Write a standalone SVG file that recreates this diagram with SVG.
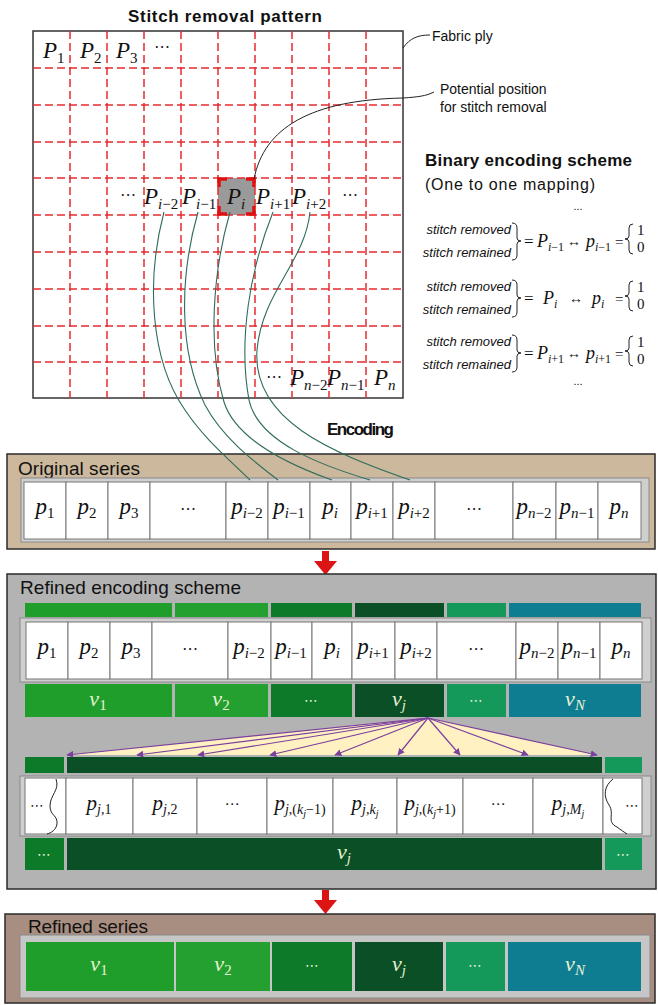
<svg xmlns="http://www.w3.org/2000/svg" width="658" height="1005" viewBox="0 0 658 1005">
<style>
.t{font-family:"Liberation Sans",Arial,sans-serif;fill:#111}
.b{font-weight:bold}
.m{font-family:"Liberation Serif","DejaVu Serif",serif;font-style:italic;fill:#111}
.n{font-style:normal}
.dots{font-family:"DejaVu Sans",sans-serif;fill:#222}
.grid{stroke:#e52a2f;stroke-width:1.5;stroke-dasharray:8 4;fill:none}
.cell{fill:#fff;stroke:#777;stroke-width:1}
.frame{fill:#cfcfcf;stroke:#8a8a8a;stroke-width:1}
.lead{fill:none;stroke:#222;stroke-width:1}
.conn{fill:none;stroke:#2e6b5c;stroke-width:1.1}
.fan{stroke:#7b3f9e;stroke-width:1.2;fill:none}
.c1{fill:#1f9e2c}.c2{fill:#23a030}.c3{fill:#0d7a2a}.c4{fill:#0b4f26}.c5{fill:#14995a}.c6{fill:#0e7d92}
.vl{font-family:"Liberation Serif","DejaVu Serif",serif;font-style:italic;fill:#e6f3d2}
.vd{font-family:"DejaVu Sans",sans-serif;fill:#e6f3d2}
.br{fill:none;stroke:#222;stroke-width:1}
.red{fill:#dd1414}
.pt{font-family:"Liberation Sans",Arial,sans-serif;fill:#111;font-size:19px}
</style>
<defs>
<marker id="ah" viewBox="0 0 10 10" refX="9" refY="5" markerWidth="7" markerHeight="7" orient="auto-start-reverse" markerUnits="userSpaceOnUse">
<path d="M0,0 L10,5 L0,10 z" fill="#7b3f9e"/>
</marker>
</defs>

<!-- Stitch removal pattern -->
<g id="pattern">
<text class="t b" x="225" y="22" font-size="17" text-anchor="middle" textLength="194">Stitch removal pattern</text>
<rect x="33" y="31" width="370" height="367" fill="#fff" stroke="#333" stroke-width="1.5"/>
<rect x="218" y="178" width="37" height="37" fill="#9a9a9a"/>
<path class="grid" d="M70,31V398M107,31V398M144,31V398M181,31V398M218,31V398M255,31V398M292,31V398M329,31V398M366,31V398"/>
<path class="grid" d="M33,68H403M33,105H403M33,142H403M33,178H403M33,215H403M33,252H403M33,289H403M33,326H403M33,362H403"/>
<path d="M219,187V179H227M246,179H254V187M254,206V214H246M227,214H219V206" fill="none" stroke="#e01010" stroke-width="3.5"/>
<text class="m" x="43" y="58" font-size="23">P<tspan class="n" dy="5" font-size="15">1</tspan></text>
<text class="m" x="80" y="58" font-size="23">P<tspan class="n" dy="5" font-size="15">2</tspan></text>
<text class="m" x="116" y="58" font-size="23">P<tspan class="n" dy="5" font-size="15">3</tspan></text>
<text class="dots" x="162" y="52" font-size="16" text-anchor="middle">⋯</text>
<text class="dots" x="128" y="200" font-size="16" text-anchor="middle">⋯</text>
<text class="m" x="144" y="204" font-size="23">P<tspan dy="5" font-size="15">i<tspan class="n">−2</tspan></tspan></text>
<text class="m" x="182" y="204" font-size="23">P<tspan dy="5" font-size="15">i<tspan class="n">−1</tspan></tspan></text>
<text class="m" x="227" y="204" font-size="23">P<tspan dy="5" font-size="15">i</tspan></text>
<text class="m" x="256" y="204" font-size="23">P<tspan dy="5" font-size="15">i<tspan class="n">+1</tspan></tspan></text>
<text class="m" x="292" y="204" font-size="23">P<tspan dy="5" font-size="15">i<tspan class="n">+2</tspan></tspan></text>
<text class="dots" x="350" y="200" font-size="16" text-anchor="middle">⋯</text>
<text class="dots" x="274" y="382" font-size="16" text-anchor="middle">⋯</text>
<text class="m" x="290" y="385" font-size="23">P<tspan dy="5" font-size="15">n<tspan class="n">−2</tspan></tspan></text>
<text class="m" x="327" y="385" font-size="23">P<tspan dy="5" font-size="15">n<tspan class="n">−1</tspan></tspan></text>
<text class="m" x="374" y="385" font-size="23">P<tspan dy="5" font-size="15">n</tspan></text>
</g>

<g id="labels">
<path class="lead" d="M403,48 C410,38 418,35 430,35"/>
<text class="t" x="432" y="41" font-size="14">Fabric ply</text>
<path class="lead" d="M254,179 C264,128 310,100 403,98 C418,97 426,96 434,92"/>
<text class="t" x="440" y="94" font-size="14">Potential position</text>
<text class="t" x="440" y="112" font-size="14">for stitch removal</text>
</g>

<!-- Binary encoding scheme -->
<g id="binary-scheme">
<text class="t b" x="425" y="166" font-size="17" textLength="207">Binary encoding scheme</text>
<text class="t" x="425" y="190" font-size="16" textLength="170">(One to one mapping)</text>
<text class="t" x="578" y="210" font-size="11" text-anchor="middle">...</text>
<g id="row1">
<text class="t" x="511" y="234" font-size="13" font-style="italic" text-anchor="end">stitch removed</text>
<text class="t" x="511" y="257" font-size="13" font-style="italic" text-anchor="end">stitch remained</text>
<path class="br" d="M512,223 Q517,223 517,228 L517,238 Q517,241 521,241 Q517,241 517,244 L517,255 Q517,260 512,260"/>
<text class="m n" x="524" y="247" font-size="17">=</text>
<text class="m" x="537" y="247" font-size="18">P<tspan dy="4" font-size="12">i<tspan class="n">−1</tspan></tspan></text>
<text class="m n" x="567" y="246" font-size="14">↔</text>
<text class="m" x="586" y="247" font-size="18">p<tspan dy="4" font-size="12">i<tspan class="n">−1</tspan></tspan></text>
<text class="m n" x="615" y="247" font-size="15">=</text>
<path class="br" d="M633,224 Q629,224 629,228 L629,236 Q629,239 625,239 Q629,239 629,242 L629,250 Q629,254 633,254"/>
<text class="m n" x="637" y="235" font-size="15">1</text>
<text class="m n" x="637" y="252" font-size="15">0</text>
</g>
<g id="row2" transform="translate(0,57)">
<text class="t" x="511" y="234" font-size="13" font-style="italic" text-anchor="end">stitch removed</text>
<text class="t" x="511" y="257" font-size="13" font-style="italic" text-anchor="end">stitch remained</text>
<path class="br" d="M512,223 Q517,223 517,228 L517,238 Q517,241 521,241 Q517,241 517,244 L517,255 Q517,260 512,260"/>
<text class="m n" x="524" y="247" font-size="17">=</text>
<text class="m" x="543" y="247" font-size="18">P<tspan dy="4" font-size="12">i</tspan></text>
<text class="m n" x="569" y="246" font-size="14">↔</text>
<text class="m" x="592" y="247" font-size="18">p<tspan dy="4" font-size="12">i</tspan></text>
<text class="m n" x="615" y="247" font-size="15">=</text>
<path class="br" d="M633,224 Q629,224 629,228 L629,236 Q629,239 625,239 Q629,239 629,242 L629,250 Q629,254 633,254"/>
<text class="m n" x="637" y="235" font-size="15">1</text>
<text class="m n" x="637" y="252" font-size="15">0</text>
</g>
<g id="row3" transform="translate(0,112)">
<text class="t" x="511" y="234" font-size="13" font-style="italic" text-anchor="end">stitch removed</text>
<text class="t" x="511" y="257" font-size="13" font-style="italic" text-anchor="end">stitch remained</text>
<path class="br" d="M512,223 Q517,223 517,228 L517,238 Q517,241 521,241 Q517,241 517,244 L517,255 Q517,260 512,260"/>
<text class="m n" x="524" y="247" font-size="17">=</text>
<text class="m" x="537" y="247" font-size="18">P<tspan dy="4" font-size="12">i<tspan class="n">+1</tspan></tspan></text>
<text class="m n" x="567" y="246" font-size="14">↔</text>
<text class="m" x="586" y="247" font-size="18">p<tspan dy="4" font-size="12">i<tspan class="n">+1</tspan></tspan></text>
<text class="m n" x="615" y="247" font-size="15">=</text>
<path class="br" d="M633,224 Q629,224 629,228 L629,236 Q629,239 625,239 Q629,239 629,242 L629,250 Q629,254 633,254"/>
<text class="m n" x="637" y="235" font-size="15">1</text>
<text class="m n" x="637" y="252" font-size="15">0</text>
</g>
<text class="t" x="578" y="385" font-size="11" text-anchor="middle">...</text>
</g>

<text class="t b" x="327" y="435" font-size="17" textLength="67">Encoding</text>

<!-- Original series -->
<g id="original-series">
<rect x="7" y="454" width="648" height="95" fill="#ccb89c" stroke="#2a2a2a" stroke-width="1.5"/>
<text class="pt" x="18" y="475" textLength="122">Original series</text>
<rect class="frame" x="21" y="478" width="628" height="64"/>
<rect class="cell" x="24" y="482" width="42" height="57"/>
<rect class="cell" x="66" y="482" width="42" height="57"/>
<rect class="cell" x="108" y="482" width="42" height="57"/>
<rect class="cell" x="150" y="482" width="76" height="57"/>
<rect class="cell" x="226" y="482" width="42" height="57"/>
<rect class="cell" x="268" y="482" width="42" height="57"/>
<rect class="cell" x="310" y="482" width="41" height="57"/>
<rect class="cell" x="351" y="482" width="42" height="57"/>
<rect class="cell" x="393" y="482" width="42" height="57"/>
<rect class="cell" x="435" y="482" width="78" height="57"/>
<rect class="cell" x="513" y="482" width="43" height="57"/>
<rect class="cell" x="556" y="482" width="42" height="57"/>
<rect class="cell" x="598" y="482" width="43" height="57"/>
<g font-size="23" text-anchor="middle">
<text class="m" x="45" y="514">p<tspan class="n" dy="4" font-size="15">1</tspan></text>
<text class="m" x="87" y="514">p<tspan class="n" dy="4" font-size="15">2</tspan></text>
<text class="m" x="129" y="514">p<tspan class="n" dy="4" font-size="15">3</tspan></text>
<text class="dots" x="188" y="514" font-size="16">⋯</text>
<text class="m" x="247" y="514">p<tspan dy="4" font-size="15">i<tspan class="n">−2</tspan></tspan></text>
<text class="m" x="289" y="514">p<tspan dy="4" font-size="15">i<tspan class="n">−1</tspan></tspan></text>
<text class="m" x="330" y="514">p<tspan dy="4" font-size="15">i</tspan></text>
<text class="m" x="372" y="514">p<tspan dy="4" font-size="15">i<tspan class="n">+1</tspan></tspan></text>
<text class="m" x="414" y="514">p<tspan dy="4" font-size="15">i<tspan class="n">+2</tspan></tspan></text>
<text class="dots" x="474" y="514" font-size="16">⋯</text>
<text class="m" x="534" y="514">p<tspan dy="4" font-size="15">n<tspan class="n">−2</tspan></tspan></text>
<text class="m" x="577" y="514">p<tspan dy="4" font-size="15">n<tspan class="n">−1</tspan></tspan></text>
<text class="m" x="619" y="514">p<tspan dy="4" font-size="15">n</tspan></text>
</g>
</g>

<!-- connectors -->
<g id="connectors">
<path class="conn" d="M164,212 C146,280 150,360 185,410 C205,440 230,460 250,480"/>
<path class="conn" d="M198,212 C180,275 178,350 205,405 C222,437 252,460 278,480"/>
<path class="conn" d="M230,212 C212,275 208,350 224,402 C236,440 290,465 332,480"/>
<path class="conn" d="M273,212 C250,270 238,340 249,400 C258,442 320,465 370,480"/>
<path class="conn" d="M310,212 C305,262 262,292 257,350 C252,420 330,452 410,480"/>
<path class="red" d="M322,551 h7 v10 h8 l-11.5,14 l-11.5,-14 h8 z"/>
<path class="red" d="M322,890 h7 v10 h8 l-11.5,14 l-11.5,-14 h8 z"/>
</g>

<!-- Refined encoding scheme -->
<g id="refined-encoding">
<rect x="7" y="574" width="649" height="315" fill="#b3b3b3" stroke="#2a2a2a" stroke-width="1.5"/>
<text class="pt" x="20" y="594" textLength="221">Refined encoding scheme</text>
<rect class="c1" x="25" y="603" width="147" height="14"/>
<rect class="c2" x="175" y="603" width="93" height="14"/>
<rect class="c3" x="271" y="603" width="81" height="14"/>
<rect class="c4" x="355" y="603" width="89" height="14"/>
<rect class="c5" x="447" y="603" width="59" height="14"/>
<rect class="c6" x="509" y="603" width="132" height="14"/>
<rect class="frame" x="20" y="618" width="631" height="64"/>
<rect class="cell" x="26" y="622" width="42" height="57"/>
<rect class="cell" x="68" y="622" width="42" height="57"/>
<rect class="cell" x="110" y="622" width="42" height="57"/>
<rect class="cell" x="152" y="622" width="76" height="57"/>
<rect class="cell" x="228" y="622" width="43" height="57"/>
<rect class="cell" x="271" y="622" width="41" height="57"/>
<rect class="cell" x="312" y="622" width="40" height="57"/>
<rect class="cell" x="352" y="622" width="43" height="57"/>
<rect class="cell" x="395" y="622" width="42" height="57"/>
<rect class="cell" x="437" y="622" width="79" height="57"/>
<rect class="cell" x="516" y="622" width="42" height="57"/>
<rect class="cell" x="558" y="622" width="42" height="57"/>
<rect class="cell" x="600" y="622" width="42" height="57"/>
<g font-size="23" text-anchor="middle">
<text class="m" x="47" y="654">p<tspan class="n" dy="4" font-size="15">1</tspan></text>
<text class="m" x="89" y="654">p<tspan class="n" dy="4" font-size="15">2</tspan></text>
<text class="m" x="131" y="654">p<tspan class="n" dy="4" font-size="15">3</tspan></text>
<text class="dots" x="190" y="654" font-size="16">⋯</text>
<text class="m" x="249" y="654">p<tspan dy="4" font-size="15">i<tspan class="n">−2</tspan></tspan></text>
<text class="m" x="291" y="654">p<tspan dy="4" font-size="15">i<tspan class="n">−1</tspan></tspan></text>
<text class="m" x="332" y="654">p<tspan dy="4" font-size="15">i</tspan></text>
<text class="m" x="373" y="654">p<tspan dy="4" font-size="15">i<tspan class="n">+1</tspan></tspan></text>
<text class="m" x="416" y="654">p<tspan dy="4" font-size="15">i<tspan class="n">+2</tspan></tspan></text>
<text class="dots" x="476" y="654" font-size="16">⋯</text>
<text class="m" x="537" y="654">p<tspan dy="4" font-size="15">n<tspan class="n">−2</tspan></tspan></text>
<text class="m" x="579" y="654">p<tspan dy="4" font-size="15">n<tspan class="n">−1</tspan></tspan></text>
<text class="m" x="621" y="654">p<tspan dy="4" font-size="15">n</tspan></text>
</g>
<rect class="c1" x="25" y="684" width="147" height="33"/>
<rect class="c2" x="175" y="684" width="93" height="33"/>
<rect class="c3" x="271" y="684" width="81" height="33"/>
<rect class="c4" x="355" y="684" width="89" height="33"/>
<rect class="c5" x="447" y="684" width="59" height="33"/>
<rect class="c6" x="509" y="684" width="132" height="33"/>
<g font-size="22" text-anchor="middle">
<text class="vl" x="98" y="706">v<tspan class="n" dy="4" font-size="15">1</tspan></text>
<text class="vl" x="221" y="706">v<tspan class="n" dy="4" font-size="15">2</tspan></text>
<text class="vd" x="311" y="705" font-size="14">⋯</text>
<text class="vl" x="399" y="706">v<tspan dy="4" font-size="15">j</tspan></text>
<text class="vd" x="476" y="705" font-size="14">⋯</text>
<text class="vl" x="575" y="706">v<tspan dy="4" font-size="15">N</tspan></text>
</g>

<!-- fan -->
<polygon points="428,718 67,755 597,755" fill="#fff1c2"/>
<g class="fan" marker-end="url(#ah)">
<line x1="428" y1="718" x2="67" y2="755"/>
<line x1="428" y1="718" x2="137" y2="755"/>
<line x1="428" y1="718" x2="198" y2="755"/>
<line x1="428" y1="718" x2="270" y2="755"/>
<line x1="428" y1="718" x2="335" y2="755"/>
<line x1="428" y1="718" x2="398" y2="755"/>
<line x1="428" y1="718" x2="460" y2="755"/>
<line x1="428" y1="718" x2="528" y2="755"/>
<line x1="428" y1="718" x2="597" y2="755"/>
</g>

<rect class="c3" x="25" y="757" width="39" height="16"/>
<rect class="c4" x="67" y="757" width="535" height="16"/>
<rect class="c5" x="605" y="757" width="37" height="16"/>

<rect class="frame" x="20" y="776" width="631" height="60"/>
<rect class="cell" x="25" y="778" width="41" height="56"/>
<rect class="cell" x="66" y="778" width="67" height="56"/>
<rect class="cell" x="133" y="778" width="64" height="56"/>
<rect class="cell" x="197" y="778" width="70" height="56"/>
<rect class="cell" x="267" y="778" width="66" height="56"/>
<rect class="cell" x="333" y="778" width="64" height="56"/>
<rect class="cell" x="397" y="778" width="66" height="56"/>
<rect class="cell" x="463" y="778" width="70" height="56"/>
<rect class="cell" x="533" y="778" width="70" height="56"/>
<rect class="cell" x="603" y="778" width="39" height="56"/>
<path class="br" d="M56,779 C60,790 50,795 50,806 C50,816 58,815 57,824 C56,830 51,833 47,834"/>
<path class="br" d="M613,779 C604,786 603,796 609,805 C615,814 606,822 617,827 C621,830 624,832 627,834"/>
<text class="dots" x="37" y="810" font-size="14" text-anchor="middle">⋯</text>
<text class="dots" x="632" y="810" font-size="14" text-anchor="middle">⋯</text>
<g font-size="21" text-anchor="middle">
<text class="m" x="99" y="810">p<tspan dy="4" font-size="14">j,<tspan class="n">1</tspan></tspan></text>
<text class="m" x="165" y="810">p<tspan dy="4" font-size="14">j,<tspan class="n">2</tspan></tspan></text>
<text class="dots" x="232" y="809" font-size="15">⋯</text>
<text class="m" x="300" y="810">p<tspan dy="4" font-size="14">j,<tspan class="n">(</tspan>k<tspan dy="3" font-size="10">j</tspan><tspan dy="-3" class="n">−1)</tspan></tspan></text>
<text class="m" x="365" y="810">p<tspan dy="4" font-size="14">j,k<tspan dy="3" font-size="10">j</tspan></tspan></text>
<text class="m" x="430" y="810">p<tspan dy="4" font-size="14">j,<tspan class="n">(</tspan>k<tspan dy="3" font-size="10">j</tspan><tspan dy="-3" class="n">+1)</tspan></tspan></text>
<text class="dots" x="498" y="809" font-size="15">⋯</text>
<text class="m" x="568" y="810">p<tspan dy="4" font-size="14">j,M<tspan dy="3" font-size="10">j</tspan></tspan></text>
</g>

<rect class="c3" x="25" y="838" width="39" height="32"/>
<rect class="c4" x="67" y="838" width="535" height="32"/>
<rect class="c5" x="605" y="838" width="37" height="32"/>
<text class="vd" x="44" y="859" font-size="14" text-anchor="middle">⋯</text>
<text class="vd" x="623" y="859" font-size="14" text-anchor="middle">⋯</text>
<text class="vl" x="344" y="859" font-size="22" text-anchor="middle">v<tspan dy="4" font-size="15">j</tspan></text>
</g>

<!-- Refined series -->
<g id="refined-series">
<rect x="5" y="914" width="650" height="89" fill="#a88e80" stroke="#2a2a2a" stroke-width="1.5"/>
<text class="pt" x="28" y="933" textLength="120">Refined series</text>
<rect x="20" y="935" width="630" height="63" fill="#c6c6c6" stroke="#8a8a8a"/>
<rect class="c1" x="26" y="942" width="148" height="49"/>
<rect class="c2" x="176" y="942" width="94" height="49"/>
<rect class="c3" x="272" y="942" width="80" height="49"/>
<rect class="c4" x="355" y="942" width="88" height="49"/>
<rect class="c5" x="446" y="942" width="59" height="49"/>
<rect class="c6" x="508" y="942" width="133" height="49"/>
<g font-size="22" text-anchor="middle">
<text class="vl" x="99" y="971">v<tspan class="n" dy="4" font-size="15">1</tspan></text>
<text class="vl" x="223" y="971">v<tspan class="n" dy="4" font-size="15">2</tspan></text>
<text class="vd" x="312" y="970" font-size="14">⋯</text>
<text class="vl" x="399" y="971">v<tspan dy="4" font-size="15">j</tspan></text>
<text class="vd" x="475" y="970" font-size="14">⋯</text>
<text class="vl" x="575" y="971">v<tspan dy="4" font-size="15">N</tspan></text>
</g>
</g>
</svg>
